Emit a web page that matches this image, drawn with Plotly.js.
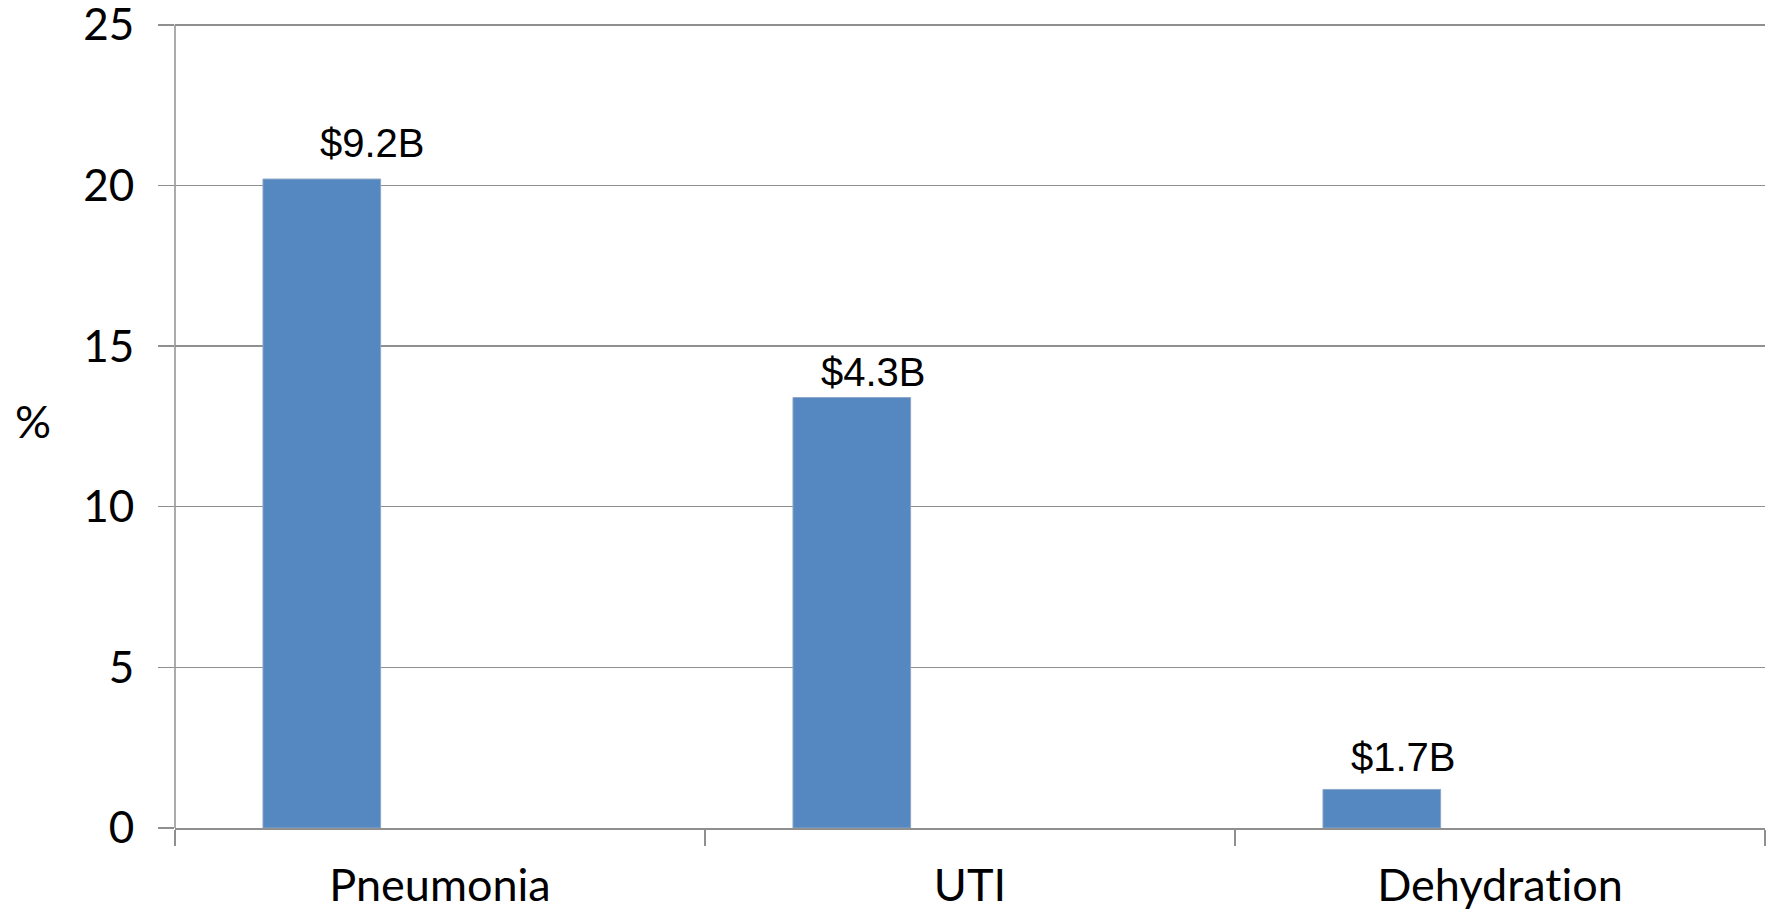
<!DOCTYPE html>
<html>
<head>
<meta charset="utf-8">
<script src="https://cdn.plot.ly/plotly-3.0.1.min.js"></script>
<style>
  html, body { margin: 0; padding: 0; background: #ffffff; }
  #chart { width: 1768px; height: 912px; }
  #chart text { font-variant-ligatures: none; font-feature-settings: "liga" 0, "clig" 0; }
</style>
</head>
<body>
<div id="chart"></div>
<script>
// ---- data ----
const categories = ["Pneumonia", "UTI", "Dehydration"];
const percentValues = [20.2, 13.4, 1.2];
const costLabels = ["$9.2B", "$4.3B", "$1.7B"];
const yTickValues = [0, 5, 10, 15, 20, 25];
const yAxisLabel = "%";

// ---- style ----
const gridColor = "#8f8f8f";
const barColor = "#5587c1";
const xTickFont = { family: "Lato, 'Open Sans', sans-serif", size: 45, color: "#000000" };
const yTickFont = { family: "Lato, 'Open Sans', sans-serif", size: 44, color: "#000000" };
const labelFont = { family: "'Liberation Sans', Arial, sans-serif", size: 40, color: "#000000" };
const labelXShift = [51, 22, 22];
const labelYShift = [12, 2, 8];
const barOffset = -0.334;
const barWidth = 0.222;
const categoryPx = 530;
const yTop = yTickValues[yTickValues.length - 1];

const trace = {
  type: "bar",
  x: categories,
  y: percentValues,
  width: barWidth,
  offset: barOffset,
  marker: { color: barColor, line: { color: "#8fa6c6", width: 1 } },
  hoverinfo: "x+y",
  showlegend: false
};

const annotations = categories.map((c, i) => ({
  x: c,
  y: percentValues[i],
  xref: "x",
  yref: "y",
  text: costLabels[i],
  showarrow: false,
  xanchor: "center",
  yanchor: "bottom",
  xshift: labelXShift[i] + (barOffset + barWidth / 2) * categoryPx,
  yshift: labelYShift[i],
  font: labelFont
}));

annotations.push({
  xref: "paper",
  yref: "paper",
  x: 0,
  y: 0.5,
  xanchor: "center",
  yanchor: "middle",
  xshift: -142,
  yshift: -1,
  text: yAxisLabel,
  showarrow: false,
  font: xTickFont
});

const layout = {
  width: 1768,
  height: 912,
  margin: { l: 175, r: 3, t: 12, b: 84 },
  paper_bgcolor: "#ffffff",
  plot_bgcolor: "#ffffff",
  bargap: 0,
  xaxis: {
    type: "category",
    range: [-0.5, 2.5],
    showgrid: false,
    showline: true,
    linecolor: gridColor,
    linewidth: 1.5,
    ticks: "outside",
    tickson: "boundaries",
    ticklen: 16,
    tickwidth: 1.5,
    tickcolor: gridColor,
    tickfont: xTickFont,
    ticklabelstandoff: 17,
    zeroline: false,
    fixedrange: true
  },
  yaxis: {
    range: [0, 25.4],
    tickvals: yTickValues,
    ticktext: yTickValues.map(String),
    showgrid: true,
    gridcolor: gridColor,
    gridwidth: 1.5,
    showline: false,
    ticks: "outside",
    ticklen: 16,
    tickwidth: 1.5,
    tickcolor: gridColor,
    tickfont: yTickFont,
    ticklabelstandoff: 15,
    ticklabeloverflow: "allow",
    zeroline: false,
    fixedrange: true
  },
  shapes: [{
    type: "line",
    xref: "paper",
    yref: "y",
    x0: 0, x1: 0,
    y0: 0, y1: yTop,
    line: { color: gridColor, width: 1.5 },
    layer: "above"
  }],
  annotations: annotations
};

Plotly.newPlot("chart", [trace], layout, { displayModeBar: false, staticPlot: true });
</script>
</body>
</html>
